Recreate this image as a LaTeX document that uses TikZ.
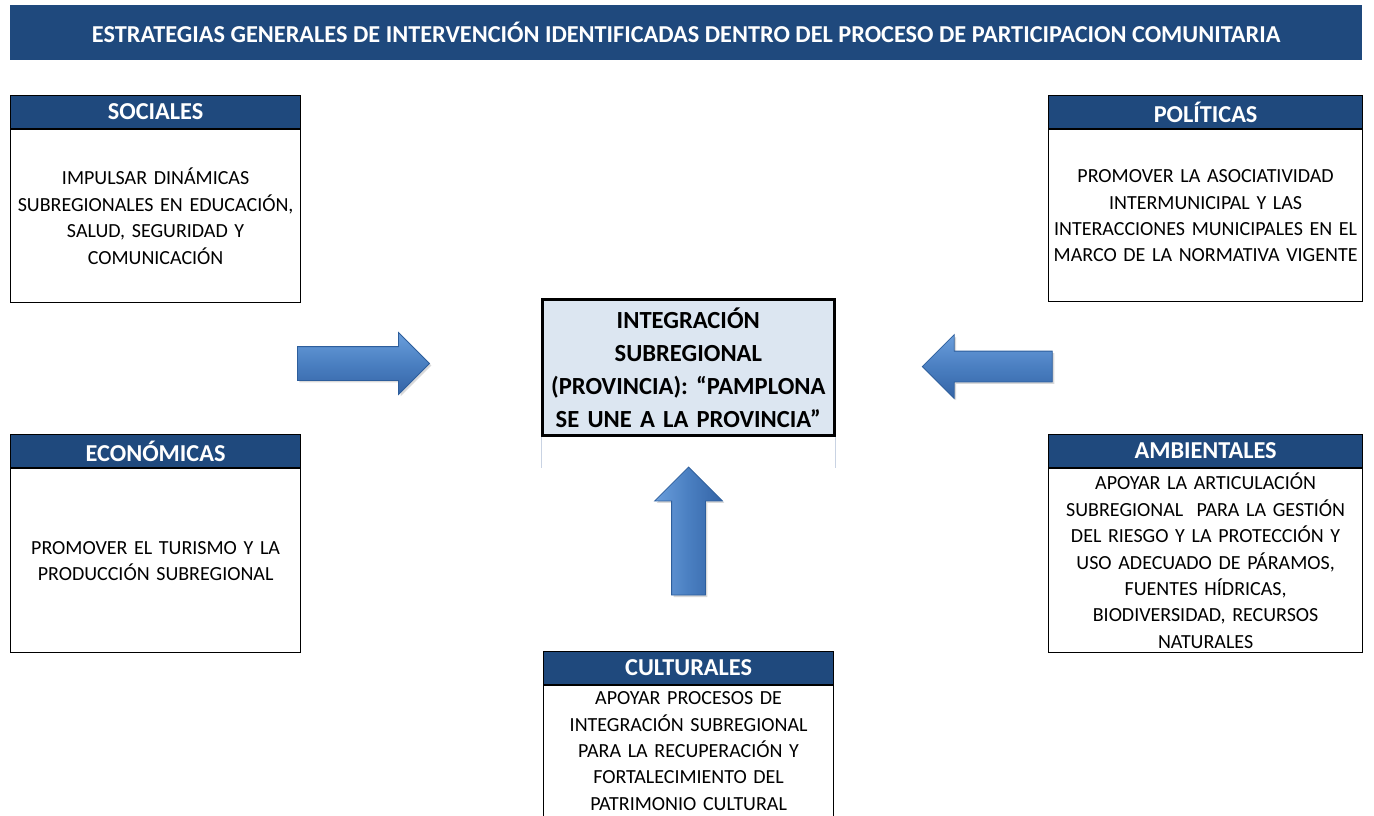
\documentclass[tikz,border=0pt]{standalone}
\usepackage{fontspec}
\setmainfont{Carlito}
\usepackage{tikz}
\usetikzlibrary{positioning,shapes.arrows,shadows}
\definecolor{estrdark}{HTML}{1F497D}
\definecolor{estrlight}{HTML}{DCE6F1}
\definecolor{estrarrow}{HTML}{4A7FC1}
\definecolor{estrarrowlite}{HTML}{6A9EDC}
\definecolor{estrarrowdeep}{HTML}{3464A6}
\definecolor{estrarrowedge}{HTML}{2D5E9C}
\definecolor{estrgrid}{HTML}{C9D3E3}
\tikzset{%
  estrtitle/.style={%
    fill=estrdark,
    text=white,
    minimum width=1352pt,
    minimum height=55pt,
    inner sep=0pt,
    font=\fontsize{24.3}{28}\selectfont\bfseries
  },
  estrhead/.style={%
    draw=black,
    line width=1.2pt,
    fill=estrdark,
    text=white,
    minimum height=33pt,
    inner sep=0pt,
    font=\fontsize{24.3}{28}\selectfont\bfseries
  },
  estrbody/.style={%
    draw=black,
    line width=1.2pt,
    fill=white,
    align=center,
    inner sep=0pt,
    font=\fontsize{20}{26.4}\selectfont
  },
  estrcenter/.style={%
    draw=black,
    line width=2.6pt,
    fill=estrlight,
    align=center,
    inner sep=0pt,
    font=\fontsize{24.6}{33}\selectfont\bfseries
  },
  estrarrow/.style={%
    single arrow,
    single arrow tip angle=90,
    draw=estrarrowedge,
    line width=0.8pt,
    drop shadow={shadow xshift=2pt,shadow yshift=-2pt,opacity=0.3}
  },
  estrflat/.style={estrarrow,top color=estrarrowlite,bottom color=estrarrowdeep,middle color=estrarrow},
  estrtall/.style={estrarrow,left color=estrarrowlite,right color=estrarrowdeep,middle color=estrarrow},
  estrgridline/.style={draw=estrgrid,line width=0.8pt}
}

\begin{document}
\begin{tikzpicture}[x=1pt,y=-1pt]
    \path[use as bounding box] (0,0) rectangle (1374,815);
    \clip (0,0) rectangle (1374,815);

    \node[estrtitle,anchor=north west] (title) at (10,5) {ESTRATEGIAS GENERALES DE INTERVENCIÓN IDENTIFICADAS DENTRO DEL PROCESO DE PARTICIPACION COMUNITARIA};

    % izquierda
    \node[estrhead,anchor=north west,minimum width=290pt] (sochead) at (10,95) {SOCIALES};
    \node[estrbody,below=0pt of sochead,minimum width=290pt,minimum height=173pt,text width=288pt] (socbody) {IMPULSAR DINÁMICAS\\SUBREGIONALES EN EDUCACIÓN,\\SALUD, SEGURIDAD Y\\COMUNICACIÓN};
    \node[estrhead,anchor=north west,minimum width=290pt] (econhead) at (10,434) {ECONÓMICAS};
    \node[estrbody,below=0pt of econhead,minimum width=290pt,minimum height=184pt,text width=288pt] (econbody) {PROMOVER EL TURISMO Y LA\\PRODUCCIÓN SUBREGIONAL};

    % derecha
    \node[estrhead,anchor=north west,minimum width=314pt] (polhead) at (1048,95) {POLÍTICAS};
    \node[estrbody,below=0pt of polhead,minimum width=314pt,minimum height=172pt,text width=312pt] (polbody) {PROMOVER LA ASOCIATIVIDAD\\INTERMUNICIPAL Y LAS\\INTERACCIONES MUNICIPALES EN EL\\MARCO DE LA NORMATIVA VIGENTE};
    \node[estrhead,anchor=north west,minimum width=314pt] (ambhead) at (1048,434) {AMBIENTALES};
    \node[estrbody,below=0pt of ambhead,minimum width=314pt,minimum height=184pt,text width=312pt] (ambbody) {APOYAR LA ARTICULACIÓN\\SUBREGIONAL\ \ PARA LA GESTIÓN\\DEL RIESGO Y LA PROTECCIÓN Y\\USO ADECUADO DE PÁRAMOS,\\FUENTES HÍDRICAS,\\BIODIVERSIDAD, RECURSOS\\NATURALES};

    % centro
    \node[estrcenter,anchor=north west,minimum width=292pt,minimum height=136pt,text width=290pt] (integ) at (541,298) {INTEGRACIÓN\\SUBREGIONAL\\(PROVINCIA): “PAMPLONA\\SE UNE A LA PROVINCIA”};
    \draw[estrgridline] (integ.south west) -- ++(0,31);
    \draw[estrgridline] (integ.south east) -- ++(0,31);

    \node[estrhead,anchor=north west,minimum width=290pt] (culthead) at (543,651) {CULTURALES};
    \node[estrbody,below=0pt of culthead,minimum width=290pt,minimum height=150pt,text width=288pt] (cultbody) {};
    \node[estrbody,draw=none,fill=none,anchor=north,text width=288pt] (culttext) at ([yshift=-6pt]cultbody.north) {APOYAR PROCESOS DE\\INTEGRACIÓN SUBREGIONAL\\PARA LA RECUPERACIÓN Y\\FORTALECIMIENTO DEL\\PATRIMONIO CULTURAL};

    % flechas
    \node[estrflat,inner sep=16.5pt,minimum height=132pt,single arrow head extend=14pt] (arrsoc) at (355,363.5) {};
    \node[estrflat,inner sep=15pt,minimum height=130pt,single arrow head extend=16.5pt,shape border rotate=180] (arrpol) at (995,366.5) {};
    \node[estrtall,inner sep=16.5pt,minimum height=128pt,single arrow head extend=17pt,shape border rotate=90] (arrcult) at (688.5,539.5) {};
  \end{tikzpicture}
\end{document}
